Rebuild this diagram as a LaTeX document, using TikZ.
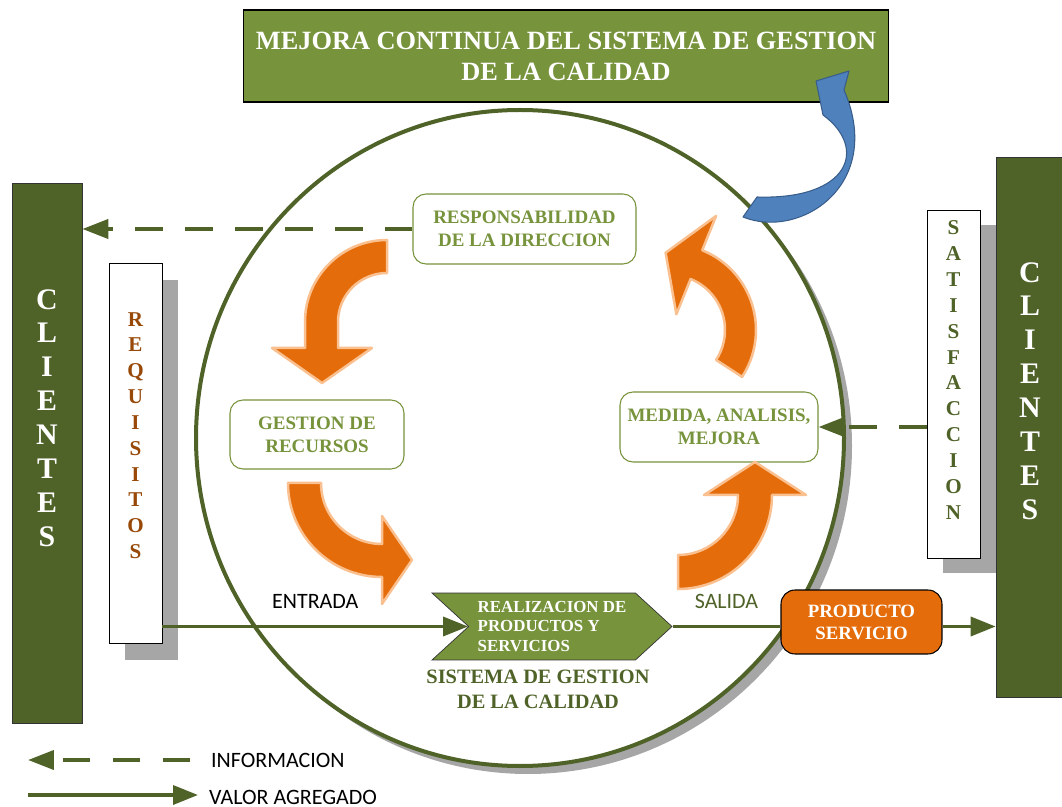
\documentclass[tikz,border=0pt]{standalone}
\usepackage{fontspec}
\setmainfont{Liberation Serif}
\newfontfamily\calibri{Carlito}
\usetikzlibrary{arrows.meta,shapes.symbols}

\definecolor{oliveA}{HTML}{77933C}
\definecolor{oliveD}{HTML}{4F6228}
\definecolor{orangeA}{HTML}{E46C0A}
\definecolor{orangeL}{HTML}{FAC090}
\definecolor{brownR}{HTML}{984807}
\definecolor{blueA}{HTML}{4F81BD}
\definecolor{blueD}{HTML}{385D8A}
\definecolor{shadowgray}{HTML}{A6A6A6}

\tikzset{
  greenbar/.style={draw=black!80, fill=oliveD, line width=0.4pt, inner sep=0pt},
  whitebar/.style={draw=black, fill=white, line width=0.5pt, inner sep=0pt, minimum width=1.06cm},
  barshadow/.style={fill=shadowgray, inner sep=0pt, minimum width=1.06cm},
  stack/.style={align=center, font=\bfseries\fontsize{12}{14.7}\selectfont},
  bigstack/.style={align=center, text=white, font=\bfseries\fontsize{17}{19.3}\selectfont},
  procbox/.style={draw=oliveA, line width=0.6pt, rounded corners=0.26cm, fill=white, text=oliveA,
    align=center, font=\bfseries\fontsize{10.8}{13}\selectfont, minimum height=1.4cm},
  turnarrow/.style={fill=orangeA, draw=orangeL, line width=0.05cm, line join=round},
  bluearrow/.style={fill=blueA, draw=blueD, line width=0.6pt, line join=round},
  info/.style={draw=oliveD, line width=0.08cm, dash pattern=on 0.55cm off 0.45cm,
    -{Triangle[length=0.52cm,width=0.38cm]}},
  valor/.style={draw=oliveD, line width=0.07cm, -{Triangle[length=0.5cm,width=0.38cm]}},
  lbl/.style={font=\calibri\fontsize{12.5}{15}\selectfont}
}

\begin{document}
\begin{tikzpicture}[x=0.02cm, y=0.02cm]
    \useasboundingbox (0,0) rectangle (1062,-807);

    % circle of the system
    \fill[shadowgray] (528,-446) ellipse[x radius=324, y radius=328];
    \draw[oliveD, line width=0.08cm, fill=white] (520,-438) ellipse[x radius=324, y radius=328];

    % mejora continua
    \node[draw=black, line width=0.6pt, fill=oliveA, minimum width=12.92cm, minimum height=1.84cm,
        text=white, align=center, font=\bfseries\fontsize{15}{17.6}\selectfont] (mejora) at (566,-56)
        {MEJORA CONTINUA DEL SISTEMA DE GESTION\\DE LA CALIDAD};

    % clientes, requisitos, satisfaccion
    \node[greenbar, minimum width=1.4cm, minimum height=10.8cm] (cliL) at (47,-453) {};
    \node[bigstack] (cliLtxt) at (47,-418) {C\\L\\I\\E\\N\\T\\E\\S};

    \node[barshadow, minimum height=7.6cm] (reqsh) at (151.5,-470) {};
    \node[whitebar, minimum height=7.6cm] (req) at (135.5,-453) {};
    \node[stack, text=brownR] (reqtxt) at (135.5,-435.5) {R\\E\\Q\\U\\I\\S\\I\\T\\O\\S};

    \node[barshadow, minimum height=6.96cm] (satsh) at (969,-399) {};
    \node[greenbar, minimum width=1.32cm, minimum height=10.8cm] (cliR) at (1029,-427) {};
    \node[bigstack] (cliRtxt) at (1030,-391) {C\\L\\I\\E\\N\\T\\E\\S};
    \node[whitebar, minimum height=6.96cm] (sat) at (953.5,-384) {};
    \node[stack, text=oliveD] (sattxt) at (953.5,-370) {S\\A\\T\\I\\S\\F\\A\\C\\C\\I\\O\\N};

    % processes
    \node[procbox, minimum width=4.46cm] (resp) at (524.5,-229) {RESPONSABILIDAD\\DE LA DIRECCION};
    \node[procbox, minimum width=3.48cm, minimum height=1.38cm] (gest) at (317,-434.5) {GESTION DE\\RECURSOS};
    \node[procbox, minimum width=3.96cm] (med) at (719,-427) {MEDIDA, ANALISIS,\\MEJORA};

    % turning arrows
    \filldraw[turnarrow] (387,-240) arc[start angle=90, end angle=180, radius=82] -- (305,-348)
        -- (272,-348) -- (322,-383) -- (372,-348) -- (338,-348) -- (338,-322)
        arc[start angle=180, end angle=90, radius=49] -- cycle;
    \filldraw[turnarrow] (288,-483) arc[start angle=180, end angle=270, radius=94] -- (382,-604)
        -- (412,-560) -- (382,-516) -- (382,-544)
        arc[start angle=270, end angle=180, radius=61] -- cycle;
    \filldraw[turnarrow] (678,-589) arc[start angle=270, end angle=360, radius=94] -- (806,-495)
        -- (755,-462) -- (704,-495) -- (738,-495)
        arc[start angle=0, end angle=-90, radius=60] -- cycle;
    \begin{scope}[shift={(670,-330)}]
        \filldraw[turnarrow] (-33:86) arc[start angle=-33, end angle=68, radius=86] -- (68:123)
            -- ({68+atan(33/70)}:{sqrt(70^2+33^2)}) -- (68:17) -- (68:55)
            arc[start angle=68, end angle=-33, radius=55] -- cycle;
    \end{scope}

    % realizacion
    \node[signal, signal from=west, signal to=east, signal pointer angle=85, draw=black!80, fill=oliveA,
        minimum width=4.8cm, minimum height=1.34cm, inner sep=1pt, text=white, align=left,
        font=\bfseries\fontsize{9.6}{11}\selectfont] (real) at (552,-626.5) {REALIZACION DE\\PRODUCTOS Y\\SERVICIOS};
    \node[text=oliveD, align=center, font=\bfseries\fontsize{11.6}{14.2}\selectfont] (sgc) at (538,-689.5)
        {SISTEMA DE GESTION\\DE LA CALIDAD};

    \node[draw=black, line width=0.6pt, fill=orangeA, rounded corners=0.28cm, minimum width=3.22cm,
        minimum height=1.28cm, text=white, align=center, font=\bfseries\fontsize{10.7}{12.5}\selectfont]
        (prod) at (861.5,-622) {PRODUCTO\\SERVICIO};

    % flows
    \draw[info] (resp.west) -- (resp.west -| cliL.east);
    \draw[info] (med.east -| sat.west) -- (med.east);
    \draw[valor] (real.west -| req.east) -- (real.west) node[lbl, midway, above=0.2cm] (entrada) {ENTRADA};
    \draw[oliveD, line width=0.07cm] (real.east) -- (real.east -| prod.west) node[lbl, midway, above=0.2cm] (salida) {SALIDA};
    \draw[valor] (real.east -| prod.east) -- (real.east -| cliR.west);

    % mejora continua arrow
    \filldraw[bluearrow] (743,-217) .. controls (800,-240) and (885,-185) .. (844,-90) -- (849,-71)
        -- (816,-81) -- (823,-115) .. controls (868,-148) and (850,-200) .. (757,-197) -- cycle;

    % legend
    \coordinate (infoA) at (190,-760);
    \coordinate (infoB) at (28,-760);
    \draw[info] (infoA) -- (infoB);
    \node[lbl, anchor=west] (infotxt) at (205,-760) {INFORMACION};
    \coordinate (valA) at (28,-795);
    \coordinate (valB) at (198,-795);
    \draw[valor] (valA) -- (valB);
    \node[lbl, anchor=west] (valtxt) at (203,-797) {VALOR AGREGADO};
\end{tikzpicture}
\end{document}
